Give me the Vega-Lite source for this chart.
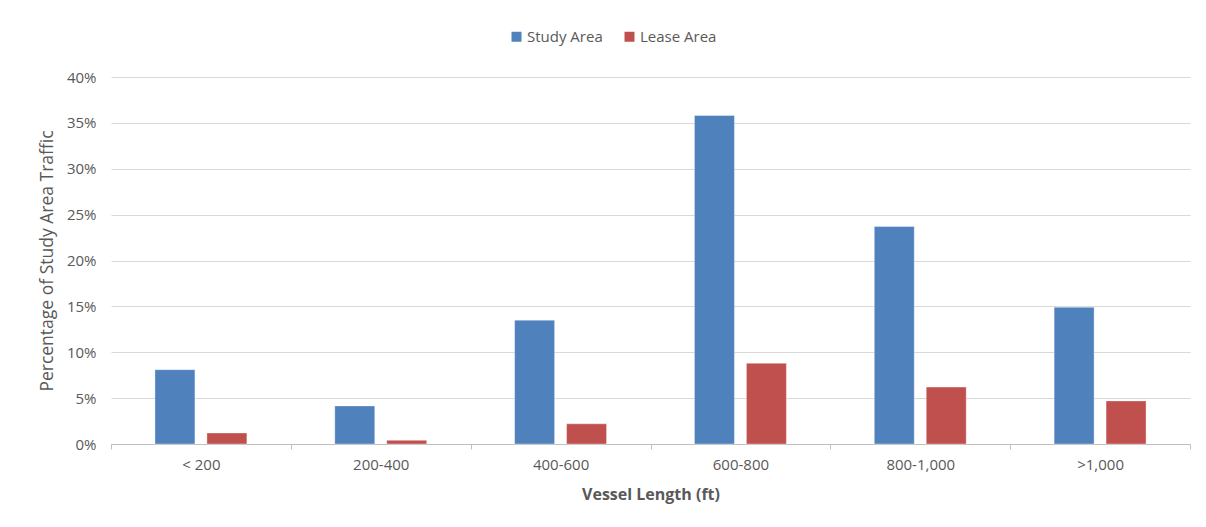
{
  "$schema": "https://vega.github.io/schema/vega-lite/v6.json",
  "width": 1079,
  "height": 367,
  "autosize": {"type": "none"},
  "padding": {"left": 111, "top": 77, "right": 16, "bottom": 83},
  "background": "#ffffff",
  "config": {
    "font": "Open Sans",
    "view": {"stroke": null}
  },
  "data": {
    "values": [
      {"length": "< 200", "area": "Study Area", "pct": 0.081},
      {"length": "< 200", "area": "Lease Area", "pct": 0.012},
      {"length": "200-400", "area": "Study Area", "pct": 0.0415},
      {"length": "200-400", "area": "Lease Area", "pct": 0.004},
      {"length": "400-600", "area": "Study Area", "pct": 0.135},
      {"length": "400-600", "area": "Lease Area", "pct": 0.022},
      {"length": "600-800", "area": "Study Area", "pct": 0.358},
      {"length": "600-800", "area": "Lease Area", "pct": 0.088},
      {"length": "800-1,000", "area": "Study Area", "pct": 0.237},
      {"length": "800-1,000", "area": "Lease Area", "pct": 0.062},
      {"length": ">1,000", "area": "Study Area", "pct": 0.149},
      {"length": ">1,000", "area": "Lease Area", "pct": 0.047}
    ]
  },
  "mark": {"type": "bar", "stroke": "#ffffff", "strokeWidth": 0.6, "strokeOpacity": 0.6},
  "encoding": {
    "x": {
      "field": "length",
      "type": "nominal",
      "sort": null,
      "scale": {"paddingInner": 0, "paddingOuter": 0},
      "axis": {
        "title": "Vessel Length (ft)",
        "titleFont": "Open Sans",
        "titleFontSize": 16,
        "titleFontWeight": "bold",
        "titleColor": "#595959",
        "titlePadding": 14,
        "labelAngle": 0,
        "labelFontSize": 15,
        "labelColor": "#595959",
        "labelPadding": 8,
        "domainColor": "#bfbfbf",
        "tickColor": "#bfbfbf",
        "tickSize": 5,
        "tickBand": "extent",
        "grid": false
      }
    },
    "xOffset": {
      "field": "area",
      "type": "nominal",
      "sort": ["Study Area", "Lease Area"],
      "scale": {"paddingInner": 0.2308, "paddingOuter": 0.846}
    },
    "y": {
      "field": "pct",
      "type": "quantitative",
      "scale": {"domain": [0, 0.4]},
      "axis": {
        "title": "Percentage of Study Area Traffic",
        "titleFont": "Open Sans",
        "titleFontSize": 17.5,
        "titleFontWeight": "normal",
        "titleColor": "#595959",
        "titlePadding": 10,
        "format": ".0%",
        "values": [0, 0.05, 0.1, 0.15, 0.2, 0.25, 0.3, 0.35, 0.4],
        "labelFontSize": 15,
        "labelColor": "#595959",
        "labelPadding": 15,
        "ticks": false,
        "domain": false,
        "gridColor": "#d9d9d9",
        "gridWidth": 1
      }
    },
    "color": {
      "field": "area",
      "type": "nominal",
      "sort": ["Study Area", "Lease Area"],
      "scale": {"domain": ["Study Area", "Lease Area"], "range": ["#4f81bd", "#c0504d"]},
      "legend": {
        "title": null,
        "orient": "none",
        "direction": "horizontal",
        "legendX": 398,
        "legendY": -48,
        "symbolType": "square",
        "symbolSize": 100,
        "symbolStrokeWidth": 0,
        "labelFontSize": 15,
        "labelColor": "#595959",
        "labelOffset": 3,
        "columnPadding": 19
      }
    }
  }
}
